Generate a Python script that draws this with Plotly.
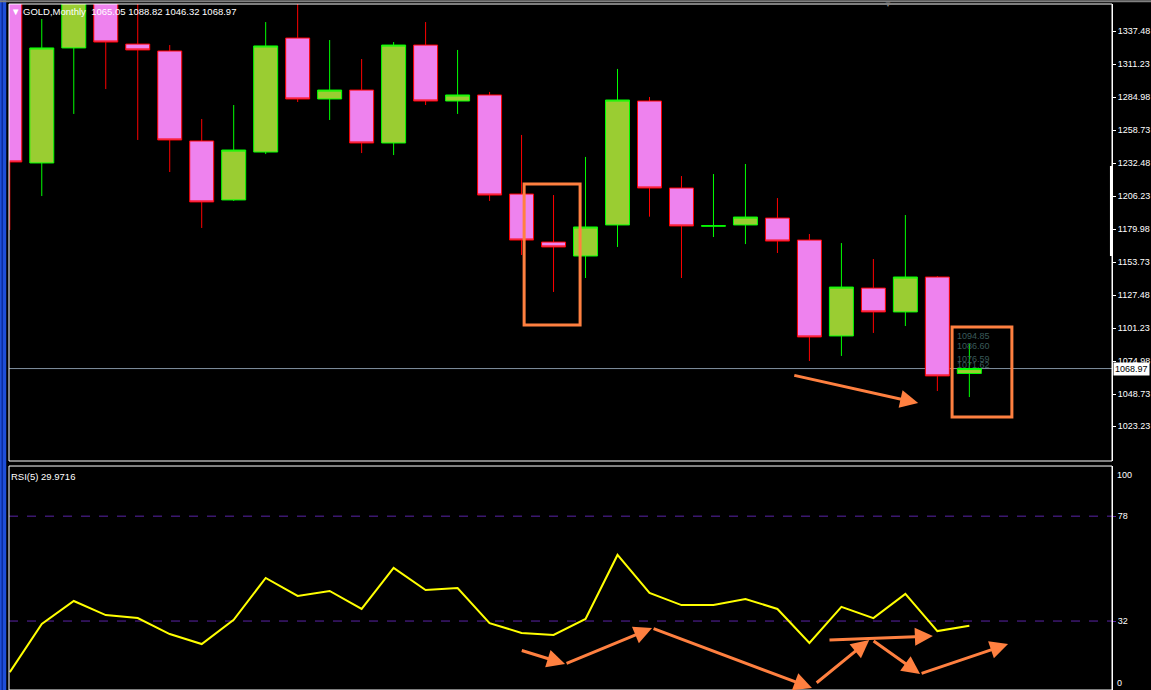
import plotly.graph_objects as go

# monthly bars, Jun 2013 .. Dec 2015
months = ['2013-06', '2013-07', '2013-08', '2013-09', '2013-10', '2013-11', '2013-12',
          '2014-01', '2014-02', '2014-03', '2014-04', '2014-05', '2014-06', '2014-07',
          '2014-08', '2014-09', '2014-10', '2014-11', '2014-12', '2015-01', '2015-02',
          '2015-03', '2015-04', '2015-05', '2015-06', '2015-07', '2015-08', '2015-09',
          '2015-10', '2015-11', '2015-12']

open_ = [1380.0, 1232.5, 1324.0, 1370.0, 1327.1, 1321.6, 1250.0, 1203.1, 1241.2, 1331.9,
         1283.4, 1290.5, 1248.4, 1326.3, 1281.8, 1286.6, 1207.8, 1169.6, 1158.5, 1183.2,
         1281.8, 1212.6, 1182.2, 1183.2, 1188.7, 1171.2, 1094.9, 1133.0, 1114.0, 1141.8,
         1065.05]
high = [1395.0, 1347.0, 1400.0, 1390.0, 1372.0, 1326.3, 1267.5, 1278.6, 1344.6, 1361.0,
        1330.3, 1315.2, 1328.7, 1344.6, 1322.4, 1289.0, 1254.8, 1207.0, 1237.3, 1307.3,
        1285.0, 1222.1, 1223.7, 1231.7, 1204.6, 1176.0, 1168.8, 1156.1, 1191.1, 1142.6,
        1088.82]
low = [1179.2, 1206.2, 1271.5, 1291.3, 1250.8, 1225.3, 1180.8, 1202.3, 1239.6, 1281.0,
       1266.7, 1240.4, 1238.8, 1278.6, 1271.5, 1202.3, 1159.3, 1129.9, 1141.0, 1165.7,
       1189.8, 1141.0, 1173.6, 1168.0, 1160.9, 1075.0, 1079.0, 1097.3, 1102.8, 1051.1,
       1046.32]
close = [1233.3, 1324.0, 1370.0, 1328.7, 1322.4, 1250.8, 1201.5, 1242.8, 1325.6, 1283.4,
         1290.5, 1248.4, 1326.3, 1281.8, 1286.6, 1207.0, 1171.2, 1165.7, 1181.6, 1282.6,
         1212.6, 1182.4, 1182.6, 1189.5, 1170.4, 1094.1, 1133.8, 1114.0, 1141.8, 1063.1,
         1068.97]

rsi = [9.6, 30.7, 40.8, 34.6, 33.3, 26.3, 21.9, 32.5, 50.9, 43.0,
       45.2, 37.3, 55.3, 45.6, 46.5, 31.1, 26.8, 25.9, 32.9, 61.0,
       44.3, 39.0, 39.0, 41.7, 37.3, 22.4, 38.2, 33.3, 43.9, 27.6,
       29.97]

price_ticks = [1337.48, 1311.23, 1284.98, 1258.73, 1232.48, 1206.23, 1179.98,
               1153.73, 1127.48, 1101.23, 1074.98, 1048.73, 1023.23]
rsi_levels = [78, 32]
last_price = 1068.97
last_rsi = 29.9716
ghost_levels = ['1094.85', '1086.60', '1076.59', '1071.62']
ghost_y = [1094.85, 1086.60, 1076.59, 1071.62]

# hand drawn marks (bar index, value)
boxes = [(16.08, 17.83, 1103.6, 1215.8), (29.46, 31.33, 1030.4, 1102.0)]
price_arrows = [(24.48, 1063.8, 28.4, 1041.6)]
rsi_arrows = [(15.96, 19.3, 17.36, 13.2), (17.36, 13.2, 20.08, 28.9),
              (20.08, 28.9, 25.08, 2.6), (25.18, 4.4, 26.87, 23.7),
              (25.58, 23.7, 28.86, 25.4), (26.96, 23.7, 28.46, 8.8),
              (28.46, 8.8, 31.21, 21.9)]

ORANGE = '#FF8040'
LEVEL = '#5A24A8'
FONT = 'Liberation Sans, Arial, sans-serif'

fig = go.Figure()

fig.add_trace(go.Candlestick(
    x=months, open=open_, high=high, low=low, close=close,
    increasing=dict(line=dict(color='#00FF00', width=1), fillcolor='#9ACD32'),
    decreasing=dict(line=dict(color='#FF0000', width=1), fillcolor='#EE82EE'),
    whiskerwidth=0,
    showlegend=False,
    hoverinfo='skip',
    yaxis='y'
))

fig.add_trace(go.Scatter(
    x=months, y=rsi,
    mode='lines',
    line=dict(color='#FFFF00', width=2),
    showlegend=False,
    hoverinfo='skip',
    yaxis='y2'
))

# levels
fig.add_shape(type='line', xref='x domain', x0=0, x1=1, yref='y', y0=last_price, y1=last_price,
              line=dict(color='#8090A0', width=1), layer='below')
for lv in rsi_levels:
    fig.add_shape(type='line', xref='x domain', x0=0, x1=1, yref='y2', y0=lv, y1=lv,
                  line=dict(color=LEVEL, width=1, dash='dash'), layer='below')

# panel frames
for ya in ['y', 'y2']:
    fig.add_shape(type='rect', xref='x domain', x0=0, x1=1, yref=ya + ' domain', y0=0, y1=1,
                  line=dict(color='white', width=1), layer='above')

# window chrome on the left and top
fig.add_shape(type='rect', xref='paper', x0=-0.0085, x1=-0.0025, yref='paper', y0=-0.01, y1=1.01,
              fillcolor='#1E4FD8', line=dict(width=0), layer='above')
fig.add_shape(type='rect', xref='paper', x0=-0.0068, x1=-0.0055, yref='paper', y0=-0.01, y1=1.01,
              fillcolor='#0A2A9A', line=dict(width=0), layer='above')
fig.add_shape(type='line', xref='paper', x0=-0.01, x1=1.04, yref='paper', y0=1.004, y1=1.004,
              line=dict(color='#808080', width=2), layer='above')

# scale marker on the price axis
fig.add_shape(type='line', xref='x domain', x0=0.9995, x1=0.9995, yref='y', y0=1158.5, y1=1230.1,
              line=dict(color='white', width=3), layer='above')

# hand drawn boxes
for x0, x1, y0, y1 in boxes:
    fig.add_shape(type='rect', xref='x', x0=x0, x1=x1, yref='y', y0=y0, y1=y1,
                  line=dict(color=ORANGE, width=3), layer='above')

annotations = []
for ax, ay, x, y in price_arrows:
    annotations.append(dict(x=x, y=y, ax=ax, ay=ay, xref='x', yref='y', axref='x', ayref='y',
                            text='', showarrow=True, arrowhead=2, arrowsize=1.2, arrowwidth=3,
                            arrowcolor=ORANGE, standoff=0))
for ax, ay, x, y in rsi_arrows:
    annotations.append(dict(x=x, y=y, ax=ax, ay=ay, xref='x', yref='y2', axref='x', ayref='y2',
                            text='', showarrow=True, arrowhead=2, arrowsize=1.2, arrowwidth=3,
                            arrowcolor=ORANGE, standoff=0))

# text labels
annotations.append(dict(xref='paper', yref='paper', x=0.0, y=0.9895, xanchor='left', yanchor='middle',
                        text='\u25BC GOLD,Monthly  %.2f %.2f %.2f %.2f' % (open_[-1], high[-1], low[-1], close[-1]),
                        showarrow=False, font=dict(family=FONT, size=9.5, color='white')))
annotations.append(dict(xref='paper', yref='y2 domain', x=0.0, y=0.985, xanchor='left', yanchor='top',
                        text='RSI(5) %.4f' % last_rsi,
                        showarrow=False, font=dict(family=FONT, size=9.5, color='white')))
annotations.append(dict(xref='paper', yref='paper', x=0.797, y=1.0, xanchor='center', yanchor='middle',
                        text='\u25BC', showarrow=False, font=dict(family=FONT, size=8, color='#808080')))
annotations.append(dict(xref='x domain', yref='y', x=1.0005, y=last_price, xanchor='left', yanchor='middle',
                        text='%.2f' % last_price, bgcolor='white', borderpad=1,
                        showarrow=False, font=dict(family=FONT, size=9, color='black')))
annotations.append(dict(xref='x domain', yref='y2 domain', x=1.003, y=0.99, xanchor='left', yanchor='top',
                        text='100', showarrow=False, font=dict(family=FONT, size=9, color='white')))
annotations.append(dict(xref='x domain', yref='y2 domain', x=1.003, y=0.0, xanchor='left', yanchor='bottom',
                        text='0', showarrow=False, font=dict(family=FONT, size=9, color='white')))
for txt, yv in zip(ghost_levels, ghost_y):
    annotations.append(dict(xref='x', yref='y', x=29.55, y=yv, xanchor='left', yanchor='middle',
                            text=txt, showarrow=False, font=dict(family=FONT, size=9, color='#3A5A5A')))

fig.update_layout(
    width=1151, height=690,
    margin=dict(l=9, r=39, t=4, b=0),
    paper_bgcolor='black',
    plot_bgcolor='black',
    font=dict(family=FONT, size=9, color='white'),
    boxgap=0.25, boxgroupgap=0,
    xaxis=dict(type='category', range=[-0.025, 34.46], anchor='y2',
               showticklabels=False, showgrid=False, zeroline=False, showline=False,
               rangeslider=dict(visible=False), fixedrange=True),
    yaxis=dict(domain=[0.3338, 1], range=[995.43, 1358.96], side='right', anchor='x',
               tickvals=price_ticks, ticktext=['%.2f' % v for v in price_ticks],
               ticks='outside', ticklen=3, tickcolor='white', automargin=False,
               showline=True, linecolor='white', linewidth=1,
               showgrid=False, zeroline=False,
               tickfont=dict(family=FONT, size=9, color='white')),
    yaxis2=dict(domain=[0, 0.3265], range=[1.75, 100], side='right', anchor='x',
                tickvals=rsi_levels, ticktext=[str(v) for v in rsi_levels],
                ticks='outside', ticklen=3, tickcolor=LEVEL, automargin=False,
                showline=True, linecolor='white', linewidth=1,
                showgrid=False, zeroline=False,
                tickfont=dict(family=FONT, size=9, color='white')),
    annotations=annotations,
)

# the page has a default 8px body margin; drop it so the chart sits at the window corner
fig.write_html('out.html', config={'displayModeBar': False},
               post_script="document.body.style.margin='0';document.body.style.background='black';")
